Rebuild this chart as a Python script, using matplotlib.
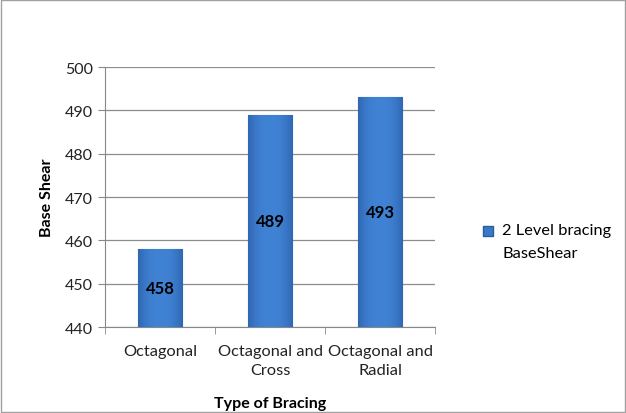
import numpy as np
import matplotlib.pyplot as plt
from matplotlib.patches import Rectangle
from matplotlib.legend_handler import HandlerPatch

categories = ["Octagonal", "Octagonal and\nCross", "Octagonal and\nRadial"]
base_shear = [458, 489, 493]
series_name = "2 Level bracing\nBaseShear"
y_ticks = [440, 450, 460, 470, 480, 490, 500]

plt.rcParams['font.family'] = ['Lato', 'DejaVu Sans']

fig = plt.figure(figsize = (6.26, 4.14), dpi = 100)
ax = fig.add_axes([0.1677, 0.2077, 0.5273, 0.628])

x = np.arange(len(categories))
bars = ax.bar(x, base_shear, width = 0.4, color = "#3B78C6", edgecolor = "#2B5C9C", linewidth = 0.8, zorder = 3)

# horizontal shading on each bar, darker at the sides
shade = np.abs(np.linspace(-1, 1, 64)) ** 2.5
grad = np.array([[0.25, 0.51, 0.83]]) * (1 - shade[:, None]) + np.array([[0.19, 0.40, 0.70]]) * shade[:, None]
img = grad[None, :, :]
for b in bars:
  im = ax.imshow(img, extent = (b.get_x(), b.get_x() + b.get_width(), 440, b.get_height()),
                 aspect = "auto", zorder = 3.1, interpolation = "bilinear")
  im.set_clip_path(b)

for b, v in zip(bars, base_shear):
  ax.text(b.get_x() + b.get_width() / 2, (440 + v) / 2, str(v), ha = "center", va = "center",
          fontsize = 12, fontweight = "bold", color = "black", zorder = 4)

ax.set_ylim(440, 500)
ax.set_xlim(-0.5, len(categories) - 0.5)
ax.set_yticks(y_ticks)
ax.set_xticks(x)
ax.set_xticklabels(categories, linespacing = 1.45)
ax.set_xticks(np.arange(len(categories) + 1) - 0.5, minor = True)
ax.tick_params(axis = "x", which = "major", length = 0, labelsize = 11.8, pad = 12, colors = "#222222")
ax.tick_params(axis = "x", which = "minor", length = 5, color = "#888888")
ax.tick_params(axis = "y", length = 5, color = "#888888", labelsize = 11.5, labelcolor = "#222222")
ax.grid(axis = "y", color = "#8c8c8c", linewidth = 0.9, zorder = 0)

for s in ("top", "right"):
  ax.spines[s].set_visible(False)
ax.spines["left"].set_color("#888888")
ax.spines["bottom"].set_color("#888888")

ax.set_ylabel("Base Shear", fontsize = 11.5, fontweight = "bold", labelpad = 8)
ax.set_xlabel("Type of Bracing", fontsize = 11.5, fontweight = "bold", labelpad = 14)

# legend marker sits on the first line of the label
def top_square(legend, orig_handle, xdescent, ydescent, width, height, fontsize):
  s = width
  return Rectangle((-xdescent, -ydescent + height / 2 - s / 2 + 0.62 * fontsize), s, s)

handle = Rectangle((0, 0), 1, 1, facecolor = "#3B78C6", edgecolor = "#2B5C9C")
ax.legend([handle], [series_name], loc = "center left", bbox_to_anchor = (1.1, 0.33),
          frameon = False, fontsize = 11.8, handlelength = 0.6, handleheight = 0.6, handletextpad = 0.6,
          handler_map = {Rectangle: HandlerPatch(patch_func = top_square)})
for t in ax.get_legend().get_texts():
  t.set_linespacing(1.8)

fig.patches.append(Rectangle((0.002, 0.002), 0.996, 0.996, transform = fig.transFigure,
                             fill = False, edgecolor = "#a0a0a0", linewidth = 1))

fig.savefig("out.png", dpi = 100)
